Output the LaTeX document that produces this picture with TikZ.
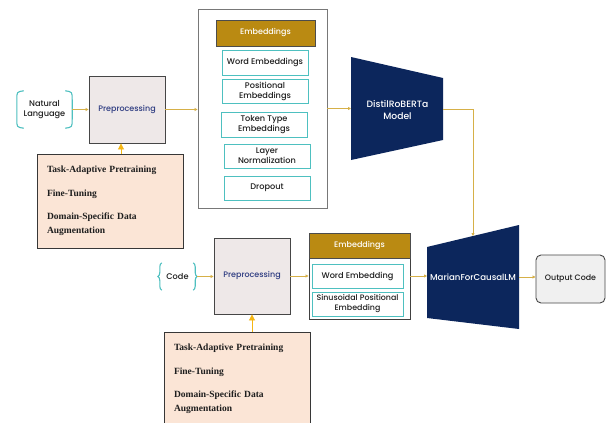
\documentclass[tikz,border=0pt]{standalone}
\usepackage{fontspec}
\setmainfont{Liberation Serif}
\newfontfamily\uifont{Poppins}[UprightFont=* Medium]
\usetikzlibrary{arrows.meta,calc,decorations.pathreplacing}

\definecolor{linegold}{RGB}{214,176,72}
\definecolor{tipgold}{RGB}{245,182,20}
\definecolor{headgold}{RGB}{186,138,18}
\definecolor{tealc}{RGB}{78,192,192}
\definecolor{navy}{RGB}{12,38,92}
\definecolor{prefill}{RGB}{238,232,232}
\definecolor{preborder}{RGB}{70,70,70}
\definecolor{preblue}{RGB}{44,58,128}
\definecolor{peach}{RGB}{251,229,214}
\definecolor{cfgborder}{RGB}{55,55,55}
\definecolor{boxgray}{RGB}{120,120,120}
\definecolor{outfill}{RGB}{240,240,240}
\definecolor{inktext}{RGB}{30,30,30}

\begin{document}
\begin{tikzpicture}[x=1pt,y=-1pt,
  font=\uifont\fontsize{8.2}{10}\selectfont,
  prebox/.style={draw=preborder, fill=prefill, line width=0.9pt, text=preblue,
    font=\uifont\fontsize{8}{10}\selectfont},
  cfgbox/.style={draw=cfgborder, fill=peach, line width=1pt, minimum width=146pt,
    minimum height=94pt, text width=126pt, inner xsep=10pt, align=left, text=inktext,
    font=\rmfamily\bfseries\fontsize{9.5}{14}\selectfont},
  subbox/.style={draw=tealc, line width=1pt, fill=white, text=inktext, align=center,
    inner sep=1pt, font=\uifont\fontsize{8.2}{10}\selectfont},
  headbox/.style={draw=black!70, fill=headgold, line width=0.6pt, text=white,
    font=\uifont\fontsize{8}{10}\selectfont},
  bracket/.style={draw=tealc, line width=1.1pt},
  conn/.style={draw=linegold, line width=0.9pt, -{Triangle[length=3pt,width=3pt]}},
  uparrow/.style={draw=tipgold, line width=0.9pt, -{Triangle[length=6pt,width=6pt]}},
  model/.style={fill=navy},
  modeltext/.style={text=white, align=center}
]
\fill[white] (0,0) rectangle (608,423);
\clip (0,0) rectangle (608,423);

% ---------- natural language branch ----------
\node[align=center, text=inktext, minimum width=55pt, minimum height=37pt, inner sep=0pt]
  (nl) at (44.5,109.5) {Natural\\Language};
\draw[bracket] ($(nl.north west)+(7,0)$) .. controls ($(nl.north west)+(0,1)$) .. ($(nl.north west)+(0,9)$)
  -- ($(nl.south west)+(0,-9)$) .. controls ($(nl.south west)+(0,-1)$) .. ($(nl.south west)+(7,0)$);
\draw[bracket] ($(nl.north east)+(-7,0)$) .. controls ($(nl.north east)+(0,1)$) .. ($(nl.north east)+(0,9)$)
  -- ($(nl.south east)+(0,-9)$) .. controls ($(nl.south east)+(0,-1)$) .. ($(nl.south east)+(-7,0)$);

\node[prebox, minimum width=76pt, minimum height=67pt] (pre1) at (127,109.5) {Preprocessing};
\node[cfgbox] (cfg1) at (110,201)
  {Task-Adaptive Pretraining\\[9.5pt]Fine-Tuning\\[9.5pt]Domain-Specific Data\\Augmentation};

% ---------- encoder embeddings ----------
\node[draw=boxgray, line width=0.9pt, fill=white, minimum width=129pt, minimum height=199pt]
  (enc) at (262.5,108.5) {};
\node[headbox, minimum width=99pt, minimum height=26pt] (enchead) at (265.5,33) {Embeddings};
\node[subbox, minimum width=86pt, minimum height=25pt] (word1) at (265,62.5) {Word Embeddings};
\node[subbox, minimum width=86pt, minimum height=24pt] (pos1) at (265,91) {Positional\\Embeddings};
\node[subbox, minimum width=86pt, minimum height=25pt] (tok1) at (264,124.5) {Token Type\\Embeddings};
\node[subbox, minimum width=86pt, minimum height=24pt] (ln1) at (267,156) {Layer\\Normalization};
\node[subbox, minimum width=86pt, minimum height=24pt] (drop1) at (267,188) {Dropout};

% ---------- DistilRoBERTa ----------
\coordinate (dTL) at (351,57);
\coordinate (dTR) at (443,78);
\coordinate (dBR) at (443,140);
\coordinate (dBL) at (351,160);
\fill[model] (dTL) -- (dTR) -- (dBR) -- (dBL) -- cycle;
\node[modeltext, font=\uifont\fontsize{9.2}{12}\selectfont] (distil) at (397.5,109.5) {DistilRoBERTa\\Model};

% ---------- code branch ----------
\node[text=inktext, minimum width=31pt, minimum height=27pt, inner sep=0pt]
  (code) at (177.5,276.5) {Code};
\draw[bracket, decorate, decoration={brace, amplitude=4pt}] (code.south west) -- (code.north west);
\draw[bracket, decorate, decoration={brace, amplitude=4pt}] (code.north east) -- (code.south east);

\node[prebox, minimum width=76pt, minimum height=76pt] (pre2) at (252,276) {Preprocessing};
\node[cfgbox] (cfg2) at (237,379)
  {Task-Adaptive Pretraining\\[9.5pt]Fine-Tuning\\[9.5pt]Domain-Specific Data\\Augmentation};

% ---------- decoder embeddings ----------
\node[draw=black!75, line width=0.9pt, fill=white, minimum width=101pt, minimum height=86pt]
  (emb2) at (359.5,276) {};
\node[headbox, minimum width=101pt, minimum height=25pt] (emb2h) at (359.5,245.5) {Embeddings};
\node[subbox, minimum width=91pt, minimum height=24pt] (word2) at (357.5,276) {Word Embedding};
\node[subbox, minimum width=91pt, minimum height=24pt, font=\uifont\fontsize{7.9}{10}\selectfont]
  (sin2) at (357.5,304) {Sinusoidal Positional\\Embedding};

% ---------- MarianForCausalLM ----------
\coordinate (mTL) at (427,247);
\coordinate (mTR) at (519,225);
\coordinate (mBR) at (519,329);
\coordinate (mBL) at (427,318);
\fill[model] (mTL) -- (mTR) -- (mBR) -- (mBL) -- cycle;
\node[modeltext, font=\uifont\fontsize{8.6}{10}\selectfont] (marian) at (473,277) {MarianForCausalLM};
\coordinate (mTop) at ($(mTL)!0.5!(mTR)$);

\node[draw=preborder, fill=outfill, line width=0.9pt, rounded corners=5pt, text=inktext,
  minimum width=69pt, minimum height=48pt, font=\uifont\fontsize{7.9}{10}\selectfont]
  (out) at (570.5,279) {Output Code};

% ---------- connectors ----------
\draw[conn] (nl.east) -- (nl.east -| pre1.west);
\draw[conn] (pre1.east) -- (pre1.east -| enc.west);
\draw[conn] (enc.east) -- (enc.east -| dTL);
\draw[conn] (distil -| dTR) -| (mTop);
\coordinate (a1) at ($(pre1.south)+(-6,0)$);
\draw[uparrow] (cfg1.north -| a1) -- (a1);

\draw[conn] ($(code.east)+(4,0)$) -- (code.east -| pre2.west);
\draw[conn] (pre2.east) -- (pre2.east -| emb2.west);
\draw[conn] (emb2.east) -- (emb2.east -| mTL);
\draw[conn] (marian -| mTR) -- (marian -| out.west);
\draw[uparrow] (cfg2.north -| pre2.south) -- (pre2.south);
\end{tikzpicture}
\end{document}
